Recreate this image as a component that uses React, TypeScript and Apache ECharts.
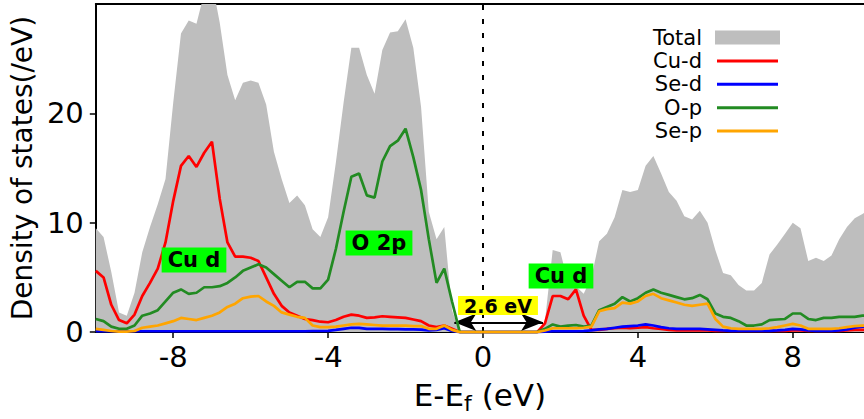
import React, { useEffect, useRef } from "react";
import * as echarts from "echarts";

// Energy grid (eV, relative to Fermi level)
const ENERGY = [
  -10, -9.8, -9.6, -9.4, -9.2, -9, -8.8, -8.6, -8.4, -8.2,
  -8, -7.8, -7.6, -7.4, -7.2, -7, -6.8, -6.6, -6.4, -6.2,
  -6, -5.8, -5.6, -5.4, -5.2, -5, -4.8, -4.6, -4.4, -4.2,
  -4, -3.8, -3.6, -3.4, -3.2, -3, -2.8, -2.6, -2.4, -2.2,
  -2, -1.8, -1.6, -1.4, -1.2, -1, -0.8, -0.6, -0.4, -0.2,
  0, 0.2, 0.4, 0.6, 0.8, 1, 1.2, 1.4, 1.6, 1.8,
  2, 2.2, 2.4, 2.6, 2.8, 3, 3.2, 3.4, 3.6, 3.8,
  4, 4.2, 4.4, 4.6, 4.8, 5, 5.2, 5.4, 5.6, 5.8,
  6, 6.2, 6.4, 6.6, 6.8, 7, 7.2, 7.4, 7.6, 7.8,
  8, 8.2, 8.4, 8.6, 8.8, 9, 9.2, 9.4, 9.6, 9.8,
  10,
];

const TOTAL = [
  9.5, 8.7, 5.5, 1.8, 1.5, 3.6, 7.3, 9.6, 11.7, 14,
  21, 27.3, 28.5, 28.2, 31, 32, 28.3, 23.5, 21.2, 22.8,
  23, 22.8, 20.8, 16.5, 14, 11.8, 12.5, 11.6, 9.4, 8.7,
  10.5, 15.5, 21, 26, 26, 23.5, 21.8, 25.8, 27.4, 27.5,
  28.6, 26, 20.6, 11, 8.5, 9.6, 2, 0, 0, 0,
  0, 0, 0, 0, 0, 0, 0, 0, 1, 7.5,
  7.3, 4.5, 4.2, 3.5, 5, 8.3, 9, 10.5, 13, 12.8,
  13, 15.2, 16.1, 14.5, 12.8, 12, 10.6, 10.3, 11.1, 10,
  7.5, 5.4, 5.2, 4.3, 3.8, 3.8, 4.5, 7.1, 8, 9,
  10, 9.5, 6.5, 6.8, 6.5, 7, 8.5, 9.6, 10.4, 10.8,
  11.2,
];

const CU_D = [
  5.6, 5.0, 2.5, 1.1, 0.8, 1.6, 3.3, 4.5, 5.8, 8.2,
  12, 15.2, 16.1, 15.1, 16.4, 17.4, 12.2, 8.2, 6.9, 6.9,
  6.8, 6.5, 5.0, 3.5, 2.4, 1.8, 1.5, 1.2, 1.1, 0.95,
  0.9, 1.1, 1.4, 1.6, 1.5, 1.3, 1.35, 1.45, 1.4, 1.35,
  1.3, 1.15, 1.0, 0.6, 0.45, 0.6, 0.3, 0, 0, 0,
  0, 0, 0, 0, 0, 0, 0, 0, 0.8, 3.3,
  3.3, 3.0, 3.9, 1.5, 0.2, 0.2, 0.3, 0.35, 0.4, 0.35,
  0.4, 0.45, 0.35, 0.3, 0.2, 0.15, 0.15, 0.15, 0.15, 0.15,
  0.12, 0.1, 0.1, 0.1, 0.1, 0.1, 0.1, 0.1, 0.1, 0.12,
  0.15, 0.15, 0.1, 0.1, 0.1, 0.1, 0.12, 0.15, 0.2, 0.2,
  0.2,
];

const SE_D = [
  0.08, 0.08, 0.08, 0.08, 0.08, 0.08, 0.08, 0.08, 0.08, 0.08,
  0.08, 0.08, 0.08, 0.08, 0.08, 0.08, 0.08, 0.08, 0.08, 0.08,
  0.08, 0.08, 0.08, 0.08, 0.08, 0.08, 0.08, 0.08, 0.1, 0.1,
  0.12, 0.2, 0.3, 0.4, 0.38, 0.3, 0.3, 0.3, 0.28, 0.28,
  0.25, 0.25, 0.22, 0.15, 0.2, 0.35, 0.1, 0, 0, 0,
  0, 0, 0, 0, 0, 0, 0, 0, 0.05, 0.08,
  0.08, 0.08, 0.08, 0.1, 0.15, 0.25, 0.3, 0.4, 0.5, 0.55,
  0.6, 0.7, 0.6, 0.45, 0.35, 0.3, 0.3, 0.3, 0.3, 0.25,
  0.2, 0.15, 0.12, 0.1, 0.1, 0.1, 0.1, 0.12, 0.15, 0.2,
  0.3, 0.25, 0.15, 0.1, 0.1, 0.1, 0.15, 0.25, 0.4, 0.5,
  0.55,
];

const O_P = [
  1.2, 1.0, 0.5, 0.3, 0.3, 0.6, 1.5, 1.7, 2.0, 2.8,
  3.6, 3.9, 3.5, 3.6, 4.1, 4.1, 4.2, 4.5, 5.0, 5.6,
  5.9, 6.2, 5.9, 5.3, 4.7, 4.1, 4.6, 4.6, 4.0, 4.0,
  4.8, 7.6, 11, 14.2, 14.5, 12.5, 12.3, 15.6, 17, 17.5,
  18.6, 16, 13, 8.5, 4.5, 5.8, 2.8, 0, 0, 0,
  0, 0, 0, 0, 0, 0, 0, 0, 0.3, 0.7,
  0.5, 0.6, 0.65, 0.5, 0.6, 2.0, 2.3, 2.6, 3.2, 2.8,
  3.1, 3.6, 3.9, 3.6, 3.4, 3.2, 3.0, 3.1, 3.4, 3.0,
  1.7, 1.4, 1.3, 1.0, 0.6, 0.6, 0.7, 1.1, 1.15, 1.2,
  1.7, 1.7, 1.2, 1.1, 1.3, 1.3, 1.4, 1.4, 1.4, 1.5,
  1.5,
];

const SE_P = [
  0.3, 0.2, 0.1, 0.05, 0.05, 0.1, 0.4, 0.5, 0.6, 0.8,
  1.0, 1.3, 1.2, 1.1, 1.3, 1.5, 1.8, 2.3, 2.6, 3.1,
  3.25, 3.3, 2.8, 2.4, 1.8, 1.6, 1.4, 1.3, 0.6, 0.45,
  0.45, 0.5, 0.6, 0.7, 0.75, 0.7, 0.65, 0.6, 0.6, 0.6,
  0.6, 0.55, 0.55, 0.3, 0.3, 0.6, 0.2, 0, 0, 0,
  0, 0, 0, 0, 0, 0, 0, 0, 0.15, 0.35,
  0.35, 0.35, 0.35, 0.4, 0.5, 1.9, 2.1, 2.2, 2.7, 2.6,
  2.8, 3.3, 3.5, 3.1, 2.9, 2.7, 2.5, 2.4, 2.5, 2.6,
  1.2, 0.5, 0.35, 0.3, 0.3, 0.3, 0.3, 0.35, 0.45, 0.6,
  0.75, 0.6, 0.3, 0.3, 0.3, 0.3, 0.35, 0.45, 0.55, 0.6,
  0.6,
];

const X_TICKS = [-8, -4, 0, 4, 8];
const X_MIN = -10;
const X_MAX = 9.84;
const Y_MIN = 0;
const Y_MAX = 30;
const Y_STEP = 10;

const SERIES_NAMES = ["Total", "Cu-d", "Se-d", "O-p", "Se-p"];
const SERIES_COLORS = ["#bebebe", "#ff0000", "#0000ff", "#228b22", "#ffa500"];
const SERIES_VALUES = [TOTAL, CU_D, SE_D, O_P, SE_P];

const GAP_LABEL = "2.6 eV";
const GAP_ARROW = [-0.74, 1.55]; // energies of arrow tips
const GAP_ARROW_Y = 0.9;

const FONT = "DejaVu Sans";

export default function App() {
  const ref = useRef<HTMLDivElement>(null);

  useEffect(() => {
    const chart = echarts.init(ref.current as HTMLDivElement, null, { renderer: "svg" });
    const pair = (arr: number[]) => ENERGY.map((e, i) => [e, arr[i]]);

    const series: any[] = SERIES_VALUES.map((vals, k) => {
      if (k === 0) {
        return {
          type: "line",
          name: SERIES_NAMES[k],
          data: pair(vals),
          showSymbol: false,
          symbol: "none",
          lineStyle: { width: 0 },
          areaStyle: { color: SERIES_COLORS[k], opacity: 1 },
          z: 1,
          clip: true,
        };
      }
      return {
        type: "line",
        name: SERIES_NAMES[k],
        data: pair(vals),
        showSymbol: false,
        symbol: "none",
        lineStyle: { width: 2.7, color: SERIES_COLORS[k] },
        itemStyle: { color: SERIES_COLORS[k] },
        z: 2 + k,
        clip: true,
      };
    });

    // Fermi level dashed line
    series[1].markLine = {
      silent: true,
      symbol: ["none", "none"],
      label: { show: false },
      lineStyle: { color: "#000", width: 2, type: [5, 9] },
      data: [{ xAxis: 0 }],
    };
    // Band gap double arrow
    series[4].markLine = {
      silent: true,
      symbol: ["arrow", "arrow"],
      symbolSize: [13, 22],
      label: { show: false },
      lineStyle: { color: "#000", width: 2, type: "solid" },
      data: [[{ coord: [GAP_ARROW[0], GAP_ARROW_Y] }, { coord: [GAP_ARROW[1], GAP_ARROW_Y] }]],
    };

    const legendY0 = 37.5;
    const legendDy = 23.4;
    const graphics: any[] = [];
    SERIES_NAMES.forEach((name, k) => {
      const y = legendY0 + legendDy * k;
      graphics.push({
        type: "text",
        z: 100,
        x: 702,
        y,
        style: {
          text: name,
          fill: "#000",
          font: `21px "${FONT}"`,
          align: "right",
          verticalAlign: "middle",
        },
      });
      if (k === 0) {
        graphics.push({
          type: "rect",
          z: 100,
          shape: { x: 715, y: y - 7, width: 65, height: 14 },
          style: { fill: SERIES_COLORS[k] },
        });
      } else {
        graphics.push({
          type: "line",
          z: 100,
          shape: { x1: 717, y1: y, x2: 778, y2: y },
          style: { stroke: SERIES_COLORS[k], lineWidth: 3 },
        });
      }
    });

    const boxes = [
      { text: "Cu d", x: 194, y: 260, bg: "#00ff00", size: 21 },
      { text: "O 2p", x: 379, y: 243, bg: "#00ff00", size: 21 },
      { text: "Cu d", x: 561, y: 276, bg: "#00ff00", size: 21 },
      { text: GAP_LABEL, x: 498, y: 305.5, bg: "#ffff00", size: 19 },
    ];
    boxes.forEach((b) => {
      graphics.push({
        type: "text",
        z: 100,
        x: b.x,
        y: b.y,
        style: {
          text: b.text,
          fill: "#000",
          font: `bold ${b.size}px "${FONT}"`,
          align: "center",
          verticalAlign: "middle",
          backgroundColor: b.bg,
          padding: b.size === 21 ? [2, 6, 2, 6] : [0, 6, 0, 6],
        },
      });
    });

    chart.setOption({
      animation: false,
      grid: { left: 93, right: 0, top: 4, bottom: 84, containLabel: false },
      xAxis: [
        {
          type: "value",
          min: X_MIN,
          max: X_MAX,
          position: "bottom",
          axisLine: { show: true, onZero: false, lineStyle: { color: "#000", width: 2 } },
          axisTick: { show: true, customValues: X_TICKS, length: 6, lineStyle: { color: "#000", width: 1.5 } },
          axisLabel: { customValues: X_TICKS, fontFamily: FONT, fontSize: 29, color: "#000", margin: 10 },
          splitLine: { show: false },
          name: "{a|E-E}{s|f}{a| (eV)}",
          nameLocation: "middle",
          nameGap: 27,
          nameTextStyle: {
            rich: {
              a: { fontFamily: FONT, fontSize: 31, color: "#000", lineHeight: 34 },
              s: { fontFamily: FONT, fontSize: 22, color: "#000", lineHeight: 20, padding: [16, 0, 0, 0] },
            },
          },
        },
        {
          type: "value",
          min: X_MIN,
          max: X_MAX,
          position: "top",
          axisLine: { show: true, onZero: false, lineStyle: { color: "#000", width: 2 } },
          axisTick: { show: false },
          axisLabel: { show: false },
          splitLine: { show: false },
        },
      ],
      yAxis: {
        type: "value",
        min: Y_MIN,
        max: Y_MAX,
        interval: Y_STEP,
        axisLine: { show: true, onZero: false, lineStyle: { color: "#000", width: 2 } },
        axisTick: { show: true, length: 6, lineStyle: { color: "#000", width: 1.5 } },
        axisLabel: { showMaxLabel: false, fontFamily: FONT, fontSize: 29, color: "#000", margin: 12 },
        splitLine: { show: false },
        name: "Density of states(/eV)",
        nameLocation: "middle",
        nameGap: 50,
        nameRotate: 90,
        nameTextStyle: { fontFamily: FONT, fontSize: 28, color: "#000" },
      },
      series,
      graphic: graphics,
    });

    return () => chart.dispose();
  }, []);

  return (
    <div
      ref={ref}
      style={{ position: "fixed", left: 0, top: 0, width: 864, height: 419, background: "#fff" }}
    />
  );
}
